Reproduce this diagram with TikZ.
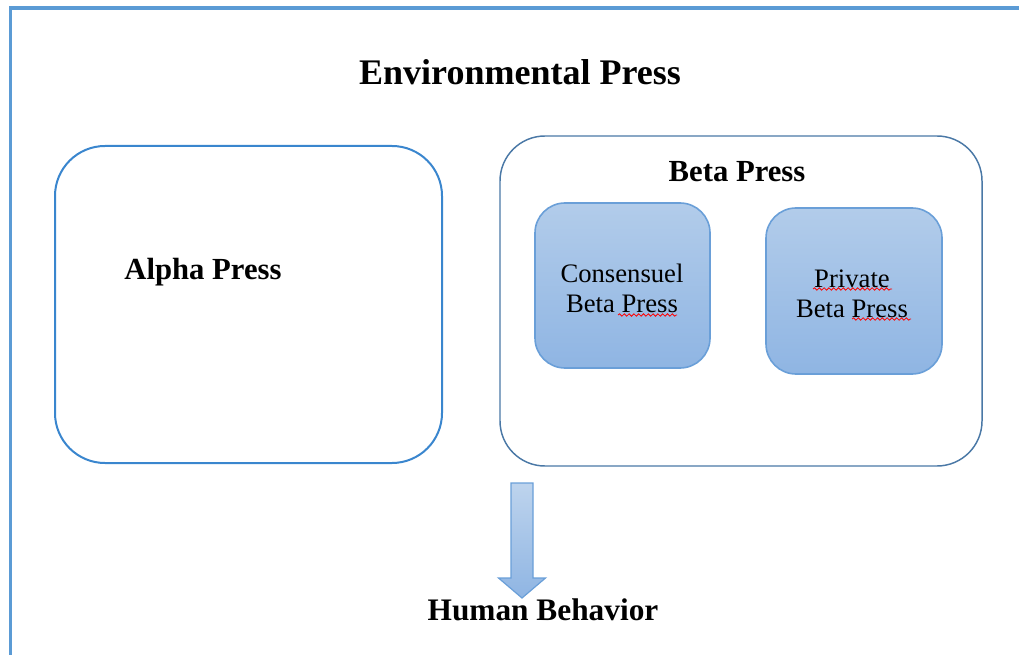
\documentclass[tikz,border=0pt]{standalone}
\usepackage{fontspec}
\setmainfont{Liberation Serif}
\usetikzlibrary{positioning,decorations.pathmorphing}
\definecolor{framecol}{HTML}{5B9BD5}
\definecolor{alphacol}{HTML}{3A86CE}
\definecolor{betacol}{HTML}{4A78A6}
\definecolor{innerline}{HTML}{6A9FD8}
\definecolor{innertop}{HTML}{B2CCEA}
\definecolor{innerbot}{HTML}{8FB5E3}
\newdimen\pxu \pxu=0.75pt
\begin{document}
\begin{tikzpicture}[x=0.75pt, y=-0.75pt, inner sep=0mm,
		bigbox/.style={draw, rounded corners=50\pxu, line width=1.5pt},
		innerbox/.style={draw=innerline, line width=1.2pt, rounded corners=30\pxu,
			top color=innertop, bottom color=innerbot, align=center,
			font=\fontsize{20}{22.5}\selectfont},
		headstyle/.style={font=\fontsize{23}{27}\selectfont\bfseries, anchor=base},
		wiggle/.style={red, line width=0.6pt, decorate,
			decoration={snake, amplitude=0.9pt, segment length=3.6pt}}]

		\useasboundingbox (0,0) rectangle (1019,655);

		% outer frame, cut by the page edge
		\draw[framecol, line width=2.4pt] (10.5,680) -- (10.5,8) -- (1040,8);

		\node[font=\fontsize{27}{31}\selectfont\bfseries, anchor=base] (title) at (520,85) {Environmental Press};

		\node[bigbox, draw=alphacol, minimum width=387\pxu, minimum height=317\pxu] (alpha) at (248.5,304.5) {};
		\node[bigbox, draw=betacol, line width=1.1pt, rounded corners=45\pxu,
			minimum width=482\pxu, minimum height=330\pxu] (beta) at (741,301) {};

		\node[headstyle] (alphalabel) at (203,280) {Alpha Press};
		\node[headstyle] (betalabel) at (737,182) {Beta Press};

		\node[innerbox, minimum width=175\pxu, minimum height=165\pxu] (cons) at (622.5,285.5) {};
		\node[innerbox, minimum width=176\pxu, minimum height=166\pxu] (priv) at (854,291) {};
		\node[align=center, font=\fontsize{20}{22.5}\selectfont] (constext) at (622,288) {Consensuel\\Beta Press};
		\node[align=center, font=\fontsize{20}{22.5}\selectfont] (privtext) at (852,294) {Private\\Beta Press};

		% spelling marks
		\draw[wiggle] (618,315) -- (677,315);
		\draw[wiggle] (813,289) -- (892,289);
		\draw[wiggle] (852,319) -- (911,319);

		\node[font=\fontsize{23.5}{27}\selectfont\bfseries, anchor=base] (human) at (543,620) {Human Behavior};

		% block arrow down to human behavior
		\coordinate (atop) at (522,483);
		\path[draw=innerline, line width=0.9pt, top color=innertop!85!white, bottom color=innerbot]
			(atop) ++(-11,0) -- ++(22,0) -- ++(0,95) -- ++(12.5,0) -- ++(-23.5,20)
			-- ++(-23.5,-20) -- ++(12.5,0) -- cycle;

		\end{tikzpicture}
\end{document}
